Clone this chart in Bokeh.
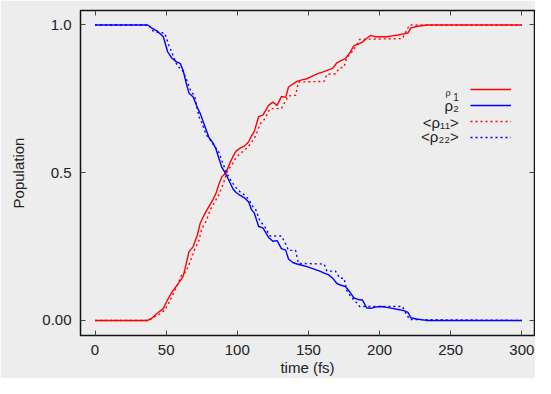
from bokeh.plotting import figure
from bokeh.models import Range1d, FixedTicker, LinearAxis, Legend, LegendItem, Label
from bokeh.embed import file_html
from bokeh.resources import INLINE

# ---- data ----
t_solid = [0, 37, 40, 44, 48, 51, 54, 57, 60, 62, 64, 66, 69, 72, 74, 77, 80, 83, 85, 87, 89,
           92, 95, 97, 99, 102, 105, 108, 110, 112, 115, 118, 122, 125, 128, 131, 134, 136, 139,
           142, 146, 149, 152, 155, 158, 161, 164, 167, 170, 173, 176, 179, 182, 185, 188, 191,
           194, 197, 201, 205, 209, 213, 217, 220, 222, 226, 233, 300]
rho1 = [0, 0, 0.008, 0.025, 0.04, 0.07, 0.095, 0.115, 0.135, 0.15, 0.19, 0.232, 0.25, 0.29, 0.33,
        0.36, 0.385, 0.41, 0.43, 0.46, 0.485, 0.50, 0.535, 0.555, 0.572, 0.583, 0.59, 0.605, 0.625,
        0.64, 0.69, 0.695, 0.728, 0.739, 0.728, 0.758, 0.755, 0.79, 0.80, 0.809, 0.815, 0.818,
        0.825, 0.832, 0.838, 0.842, 0.848, 0.853, 0.872, 0.879, 0.886, 0.905, 0.93, 0.935, 0.942,
        0.955, 0.965, 0.96, 0.96, 0.96, 0.963, 0.966, 0.97, 0.973, 0.99, 0.995, 1.0, 1.0]
rho2 = [1, 1, 0.989, 0.978, 0.96, 0.91, 0.888, 0.876, 0.869, 0.845, 0.805, 0.77, 0.756, 0.72, 0.70,
        0.66, 0.62, 0.60, 0.58, 0.55, 0.52, 0.495, 0.465, 0.445, 0.434, 0.423, 0.415, 0.401, 0.375,
        0.363, 0.318, 0.313, 0.281, 0.268, 0.27, 0.243, 0.238, 0.208, 0.196, 0.191, 0.186, 0.182,
        0.177, 0.172, 0.167, 0.16, 0.155, 0.143, 0.125, 0.119, 0.115, 0.097, 0.076, 0.071, 0.069,
        0.042, 0.041, 0.045, 0.047, 0.044, 0.041, 0.037, 0.033, 0.027, 0.009, 0.005, 0.0, 0.0]

t_avg = [0, 38, 41, 45, 49, 52, 55, 58, 61, 64, 67, 70, 73, 75, 78, 81, 84, 87, 90, 93, 96, 99,
         102, 105, 108, 111, 113, 116, 119, 123, 131, 134, 136, 141, 143, 161, 163, 169, 172, 175,
         177, 180, 183, 186, 193, 216, 221, 300]
rho11 = [0, 0, 0.01, 0.02, 0.035, 0.06, 0.09, 0.12, 0.155, 0.165, 0.2, 0.24, 0.27, 0.31, 0.335,
         0.375, 0.40, 0.425, 0.46, 0.505, 0.525, 0.55, 0.565, 0.575, 0.59, 0.61, 0.625, 0.665, 0.68,
         0.717, 0.717, 0.744, 0.76, 0.762, 0.807, 0.809, 0.833, 0.835, 0.855, 0.857, 0.89, 0.905,
         0.925, 0.951, 0.952, 0.954, 1.0, 1.0]
rho22 = [1, 1, 0.978, 0.975, 0.972, 0.93, 0.895, 0.86, 0.85, 0.82, 0.78, 0.76, 0.69, 0.67, 0.63,
         0.61, 0.59, 0.57, 0.53, 0.495, 0.47, 0.45, 0.435, 0.425, 0.41, 0.385, 0.375, 0.336, 0.32,
         0.286, 0.286, 0.259, 0.237, 0.237, 0.193, 0.191, 0.167, 0.167, 0.143, 0.143, 0.101, 0.079,
         0.065, 0.047, 0.047, 0.047, 0.003, 0.0]

x_ticks = [0, 50, 100, 150, 200, 250, 300]
y_ticks = [0, 0.5, 1.0]
y_tick_labels = ["0.00", "0.5", "1.0"]

FONT = "Liberation Sans"
TXT = "#222222"
BG = "#ededed"

p = figure(width=535, height=378, output_backend="svg", toolbar_location=None,
           x_range=Range1d(-10.2, 308.9), y_range=Range1d(-0.051, 1.049),
           min_border_left=80, min_border_right=1, min_border_top=10, min_border_bottom=42,
           background_fill_color=BG, border_fill_color=BG,
           outline_line_color="#111111", outline_line_width=1.5)
p.grid.visible = False

def style_axis(ax, show_labels=True):
    ax.axis_line_color = None
    ax.major_tick_in = 5
    ax.major_tick_out = 0
    ax.major_tick_line_color = "#444444"
    ax.major_tick_line_width = 1
    ax.minor_tick_line_color = None
    ax.major_label_text_font = FONT
    if show_labels:
        ax.major_label_text_font_size = "15px"
        ax.major_label_text_color = TXT
    else:
        ax.major_label_text_font_size = "1px"
        ax.major_label_text_color = None
        ax.major_label_standoff = 0

xa = p.xaxis[0]
xa.ticker = FixedTicker(ticks=x_ticks)
style_axis(xa)
xa.major_label_standoff = 9
xa.axis_label = "time (fs)"
xa.axis_label_standoff = 1

ya = p.yaxis[0]
ya.ticker = FixedTicker(ticks=y_ticks)
style_axis(ya)
ya.major_label_standoff = 9
ya.major_label_overrides = {v: s for v, s in zip(y_ticks, y_tick_labels)}
ya.axis_label = "Population"
ya.axis_label_standoff = 12

for ax in (xa, ya):
    ax.axis_label_text_font = FONT
    ax.axis_label_text_font_size = "15px"
    ax.axis_label_text_font_style = "normal"
    ax.axis_label_text_color = TXT

top = LinearAxis(ticker=FixedTicker(ticks=x_ticks))
style_axis(top, show_labels=False)
p.add_layout(top, "above")
right = LinearAxis(ticker=FixedTicker(ticks=y_ticks))
style_axis(right, show_labels=False)
p.add_layout(right, "right")

r1 = p.line(t_solid, rho1, line_color="#ff0000", line_width=1.4)
r2 = p.line(t_solid, rho2, line_color="#0000ff", line_width=1.4)
r3 = p.line(t_avg, rho11, line_color="#ff0000", line_width=1.4, line_dash="2 3")
r4 = p.line(t_avg, rho22, line_color="#0000ff", line_width=1.4, line_dash="2 3")

legend = Legend(items=[LegendItem(label=" ", renderers=[r]) for r in (r1, r2, r3, r4)],
                location=(390, 190), orientation="vertical",
                glyph_width=41, glyph_height=16, label_height=16, label_width=0,
                spacing=0, padding=0, margin=0, label_standoff=0,
                label_text_font_size="1px", label_text_color=None,
                border_line_alpha=0, background_fill_alpha=0)
p.add_layout(legend)

def lab(x, y, text, size):
    p.add_layout(Label(x=x, y=y, text=text, text_align="right", text_baseline="middle",
                       text_font=FONT, text_font_size=size, text_color=TXT))

lab(249.9, 0.7702, "ρ", "9px")
lab(255.7, 0.7565, "1", "10px")
lab(255.7, 0.7271, "ρ₂", "15px")
lab(255.7, 0.6716, "<ρ₁₁>", "15px")
lab(255.7, 0.6209, "<ρ₂₂>", "15px")

open("out.html", "w").write(file_html(p, INLINE))
